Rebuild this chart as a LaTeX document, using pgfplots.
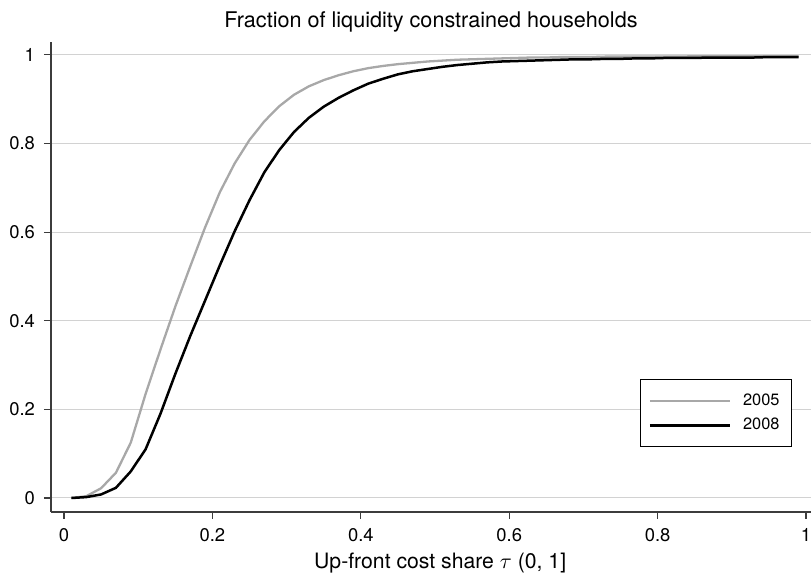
\documentclass[border=0pt]{standalone}
\usepackage{fontspec}
\setmainfont{TeX Gyre Heros}
\usepackage{pgfplots}
\usepackage{pgfplotstable}
\pgfplotsset{compat=1.18}
\definecolor{grayline}{RGB}{168,168,168}
\definecolor{gridgray}{RGB}{210,210,210}
\definecolor{axgray}{RGB}{60,60,60}

\pgfplotstableread{
x y
0.01 0.000
0.03 0.004
0.05 0.022
0.07 0.057
0.09 0.125
0.11 0.235
0.13 0.335
0.15 0.432
0.17 0.522
0.19 0.610
0.21 0.690
0.23 0.755
0.25 0.808
0.27 0.850
0.29 0.884
0.31 0.910
0.33 0.929
0.35 0.943
0.37 0.954
0.39 0.963
0.41 0.970
0.43 0.975
0.45 0.979
0.47 0.982
0.49 0.985
0.51 0.987
0.53 0.989
0.55 0.990
0.57 0.991
0.59 0.992
0.61 0.993
0.63 0.994
0.65 0.994
0.67 0.995
0.69 0.995
0.71 0.995
0.73 0.996
0.75 0.996
0.77 0.996
0.79 0.996
0.81 0.996
0.83 0.996
0.85 0.997
0.87 0.997
0.89 0.997
0.91 0.997
0.93 0.997
0.95 0.997
0.97 0.997
0.99 0.997
}\tabA

\pgfplotstableread{
x y
0.01 0.000
0.03 0.002
0.05 0.008
0.07 0.023
0.09 0.060
0.11 0.110
0.13 0.190
0.15 0.280
0.17 0.365
0.19 0.445
0.21 0.525
0.23 0.602
0.25 0.672
0.27 0.735
0.29 0.785
0.31 0.826
0.33 0.858
0.35 0.883
0.37 0.903
0.39 0.920
0.41 0.935
0.43 0.946
0.45 0.956
0.47 0.963
0.49 0.968
0.51 0.973
0.53 0.977
0.55 0.980
0.57 0.983
0.59 0.985
0.61 0.986
0.63 0.987
0.65 0.988
0.67 0.989
0.69 0.990
0.71 0.990
0.73 0.991
0.75 0.991
0.77 0.992
0.79 0.992
0.81 0.993
0.83 0.993
0.85 0.993
0.87 0.994
0.89 0.994
0.91 0.994
0.93 0.994
0.95 0.995
0.97 0.995
0.99 0.995
}\tabB

\begin{document}
\begin{tikzpicture}
\begin{axis}[
  at={(0pt,0pt)}, anchor=south west,
  scale only axis, width=380pt, height=235pt,
  xmin=-0.0175, xmax=1.0066, ymin=-0.0316, ymax=1.029,
  axis x line*=bottom, axis y line*=left,
  axis line style={-, line width=0.6pt, axgray},
  xtick={0,0.2,0.4,0.6,0.8,1}, ytick={0,0.2,0.4,0.6,0.8,1},
  tick align=outside, major tick length=3.5pt,
  tick style={axgray, line width=0.6pt},
  ymajorgrids, grid style={gridgray, line width=0.5pt},
  /pgf/number format/assume math mode=true,
  ticklabel style={font=\fontsize{9.2}{11}\selectfont},
  xticklabel style={yshift=-1pt},
  yticklabel style={xshift=-1pt},
  title={Fraction of liquidity constrained households},
  title style={font=\fontsize{10.8}{13}\selectfont, at={(axis description cs:0.5,1)}, anchor=base, yshift=1pt},
  xlabel={Up-front cost share $\tau$ (0, 1]},
  xlabel style={font=\fontsize{10.6}{13}\selectfont, at={(axis description cs:0.512,0)}, anchor=base, yshift=-28.5pt},
  legend style={at={(rel axis cs:0.975,0.283)}, anchor=north east, draw=black, line width=0.5pt, fill=white,
    font=\fontsize{8.2}{9.8}\selectfont, inner xsep=4pt, inner ysep=5pt, row sep=1pt,
    /tikz/every odd column/.append style={column sep=4pt}},
  legend cell align=left,
  legend image code/.code={\draw[#1] (0pt,0pt) -- (40pt,0pt);},
]
\addplot[grayline, line width=1.15pt] table[x=x,y=y] {\tabA};
\addlegendentry{2005}
\addplot[black, line width=1.25pt] table[x=x,y=y] {\tabB};
\addlegendentry{2008}
\end{axis}
\pgfresetboundingbox
\path[use as bounding box] (-25.5pt,-31pt) rectangle (380pt,256pt);
\end{tikzpicture}
\end{document}
